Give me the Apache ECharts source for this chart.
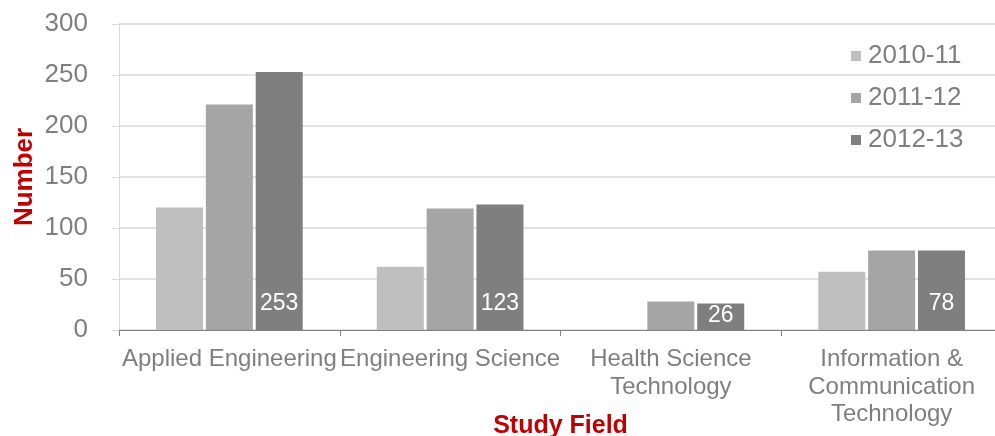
<!DOCTYPE html>
<html>
<head>
<meta charset="utf-8">
<script src="https://cdn.jsdelivr.net/npm/echarts@6/dist/echarts.min.js"></script>
<style>html,body{margin:0;padding:0;background:#fff;}#c{width:995px;height:436px;}</style>
</head>
<body>
<div id="c"></div>
<script>
const categories = ['Applied Engineering', 'Engineering Science', 'Health Science\nTechnology', 'Information &\nCommunication\nTechnology'];
const seriesNames = ['2010-11', '2011-12', '2012-13'];
const values2010 = [120, 62, null, 57];
const values2011 = [221, 119, 28, 78];
const values2012 = [253, 123, 26, 78];
const yTicks = [0, 50, 100, 150, 200, 250, 300];

const colors = ['#bfbfbf', '#a5a5a5', '#7f7f7f'];
const font = 'Liberation Sans, Arial, sans-serif';
const chart = echarts.init(document.getElementById('c'));
const mk = (name, data, i, label) => ({
  name, type: 'bar', data,
  barWidth: '21.3%', barGap: '6%',
  itemStyle: { color: colors[i] },
  label: label ? { show: true, position: 'insideBottom', distance: 14, color: '#fff', fontSize: 23, fontFamily: font } : { show: false },
  labelLayout: label ? function (p) {
    const base = p.rect.y + p.rect.height;
    const cy = Math.max(base - 26, p.rect.y + 12);
    return { x: p.rect.x + p.rect.width / 2, y: cy, align: 'center', verticalAlign: 'middle' };
  } : undefined,
  emphasis: { disabled: true }
});
chart.setOption({
  animation: false,
  color: colors,
  grid: { left: 119, right: -7, top: 24, bottom: 106, containLabel: false, outerBoundsMode: 'none' },
  legend: {
    orient: 'vertical', left: 846, top: 38,
    itemWidth: 10, itemHeight: 10, itemGap: 16,
    icon: 'rect',
    textStyle: { fontSize: 26, color: '#7f7f7f', fontFamily: font, padding: [0, 0, 0, 2] },
    data: seriesNames
  },
  xAxis: {
    type: 'category', data: categories,
    name: 'Study Field', nameLocation: 'middle', nameGap: 84, nameMoveOverlap: false,
    nameTextStyle: { color: '#c00000', fontWeight: 'bold', fontSize: 25, fontFamily: font },
    axisLine: { lineStyle: { color: '#808080', width: 1 } },
    axisTick: { show: true, length: 6, alignWithLabel: false, lineStyle: { color: '#808080' } },
    axisLabel: { interval: 0, color: '#7f7f7f', fontSize: 24, fontFamily: font, lineHeight: 27.5, margin: 16, overflow: 'none' }
  },
  yAxis: {
    type: 'value', min: yTicks[0], max: yTicks[yTicks.length - 1], interval: 50,
    name: 'Number', nameLocation: 'middle', nameGap: 81, nameRotate: 90, nameMoveOverlap: false,
    nameTextStyle: { color: '#c00000', fontWeight: 'bold', fontSize: 26, fontFamily: font },
    axisLine: { show: true, lineStyle: { color: '#d9d9d9' } },
    axisTick: { show: true, length: 7, lineStyle: { color: '#d9d9d9' } },
    splitLine: { lineStyle: { color: '#d9d9d9', width: 1.5 } },
    axisLabel: { color: '#7f7f7f', fontSize: 26, fontFamily: font, margin: 31 }
  },
  series: [
    mk(seriesNames[0], values2010, 0, false),
    mk(seriesNames[1], values2011, 1, false),
    mk(seriesNames[2], values2012, 2, true)
  ]
});
</script>
</body>
</html>
